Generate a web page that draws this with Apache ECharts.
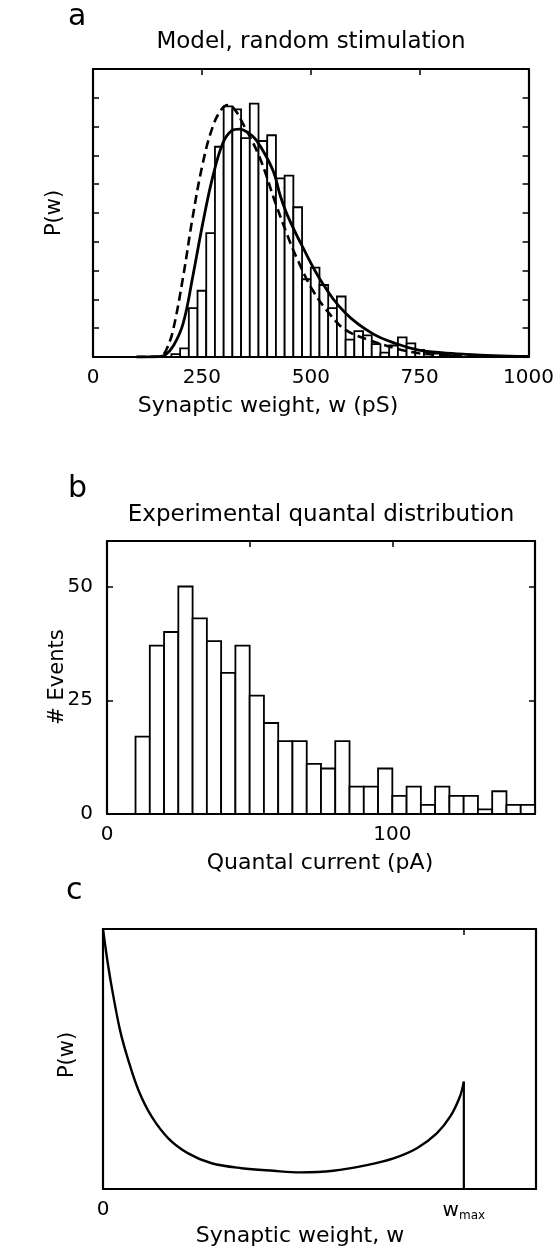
<!DOCTYPE html>
<html><head><meta charset="utf-8">
<script src="https://cdn.jsdelivr.net/npm/echarts@6/dist/echarts.min.js"></script>
<style>html,body{margin:0;padding:0;background:#fff}#c{width:557px;height:1248px}</style>
</head><body><div id="c"></div>
<script>
// ---- Panel a: model histogram (bin left edges, pS) and heights (arbitrary units)
const aBinLeft = [180,200,220,240,260,280,300,320,340,360,380,400,420,440,460,480,500,520,540,560,580,600,620,640,660,680,700,720,740,760,780,800,820];
const aBinHeight = [0.1,0.3,1.7,2.3,4.3,7.3,8.7,8.6,7.6,8.8,7.5,7.7,6.2,6.3,5.2,2.7,3.1,2.5,1.7,2.1,0.6,0.9,0.75,0.45,0.15,0.4,0.68,0.47,0.25,0.18,0.12,0.07,0.04];
const aBinWidth = 20;
// solid fit curve [w, P]
const aSolid = [[100,0],[150,0.01],[165,0.06],[185,0.4],[207,1.17],[229,2.79],[252,4.64],[275,6.26],[298,7.42],[318,7.85],[336,7.91],[355,7.8],[375,7.53],[413,6.49],[430,5.6],[447,4.9],[481,3.83],[527,2.56],[580,1.52],[641,0.82],[695,0.47],[748,0.24],[800,0.15],[860,0.09],[920,0.05],[1000,0.02]];
// dashed fit curve [w, P]
const aDashed = [[100,0],[150,0.01],[160,0.06],[170,0.3],[184,0.94],[207,2.79],[229,4.87],[252,6.72],[275,8.0],[295,8.6],[310,8.75],[325,8.6],[344,8.11],[382,6.95],[420,5.3],[447,4.2],[466,3.5],[504,2.33],[542,1.52],[580,0.94],[634,0.59],[695,0.30],[748,0.13],[800,0.07],[860,0.04],[950,0.01],[1000,0]];
const aXTicks = [0,250,500,750,1000];

// ---- Panel b: experimental histogram (bin left edges, pA) and counts
const bBinLeft = [10,15,20,25,30,35,40,45,50,55,60,65,70,75,80,85,90,95,100,105,110,115,120,125,130,135,140,145];
const bCounts = [17,37,40,50,43,38,31,37,26,20,16,16,11,10,16,6,6,10,4,6,2,6,4,4,1,5,2,2];
const bBinWidth = 5;
const bXLabels = [0,100];
const bYLabels = [0,25,50];

// ---- Panel c: theoretical weight distribution [w/wmax, P]
const cCurve = [[0,1.0],[0.012,0.88],[0.024,0.778],[0.047,0.612],[0.070,0.496],[0.098,0.381],[0.135,0.278],[0.181,0.195],[0.236,0.137],[0.301,0.099],[0.384,0.080],[0.472,0.070],[0.546,0.064],[0.638,0.070],[0.731,0.092],[0.805,0.118],[0.870,0.157],[0.925,0.214],[0.962,0.278],[0.989,0.355],[1.0,0.413]];
const cDrop = [[1.0,0.413],[1.0,0]];

const FONT = 'DejaVu Sans';
const chart = echarts.init(document.getElementById('c'), null, {renderer:'canvas'});

function histItem(width){
  return function(params, api){
    const x0 = api.value(0), h = api.value(1);
    const p0 = api.coord([x0, 0]);
    const p1 = api.coord([x0 + width, h]);
    return {type:'rect', shape:{x:p0[0], y:p1[1], width:p1[0]-p0[0], height:p0[1]-p1[1]},
      style:{fill:'#fff', stroke:'#000', lineWidth:1.8}};
  };
}
const axLine = {show:true, onZero:false, lineStyle:{color:'#000', width:2.2}};
const tick = {show:true, inside:true, length:6, lineStyle:{color:'#000', width:1.5}};
const lab = {color:'#000', fontSize:20, fontFamily:FONT};

function xPair(gi, min, max, interval, labelCfg){
  return [
    {gridIndex:gi, type:'value', min, max, interval, position:'bottom', axisLine:axLine, axisTick:tick, splitLine:{show:false}, axisLabel:labelCfg},
    {gridIndex:gi, type:'value', min, max, interval, position:'top', axisLine:axLine, axisTick:tick, splitLine:{show:false}, axisLabel:{show:false}}
  ];
}
function yPair(gi, min, max, interval, labelCfg, showTick){
  const t = showTick === false ? {show:false} : tick;
  return [
    {gridIndex:gi, type:'value', min, max, interval, position:'left', axisLine:axLine, axisTick:t, splitLine:{show:false}, axisLabel:labelCfg},
    {gridIndex:gi, type:'value', min, max, interval, position:'right', axisLine:axLine, axisTick:t, splitLine:{show:false}, axisLabel:{show:false}}
  ];
}

const option = {
  animation:false,
  backgroundColor:'#fff',
  grid:[
    {left:93, right:27, top:69, height:288},
    {left:107, right:22, top:541, height:273},
    {left:103, right:21, top:929, height:260}
  ],
  xAxis:[
    ...xPair(0, 0, 1000, 250, Object.assign({}, lab, {margin:11, formatter:v => aXTicks.includes(v) ? String(v) : ''})),
    ...xPair(1, 0, 150, 50, Object.assign({}, lab, {margin:11, showMaxLabel:false, formatter:v => bXLabels.includes(v) ? String(v) : ''})),
    ...xPair(2, 0, 1.2, 1, Object.assign({}, lab, {margin:11, showMaxLabel:false,
        formatter:v => v === 0 ? '0' : (v === 1 ? '{w|w}{m|max}' : ''),
        rich:{w:{fontSize:20, fontFamily:FONT, color:'#000'}, m:{fontSize:12, fontFamily:FONT, color:'#000', padding:[10,0,0,0]}}}))
  ],
  yAxis:[
    ...yPair(0, 0, 10, 1, {show:false}),
    ...yPair(1, 0, 60, 25, Object.assign({}, lab, {margin:14, showMaxLabel:false, formatter:v => bYLabels.includes(v) ? String(v) : ''})),
    ...yPair(2, 0, 1, 1, {show:false}, false)
  ],
  series:[
    {type:'custom', xAxisIndex:0, yAxisIndex:0, renderItem:histItem(aBinWidth), encode:{x:0,y:1},
      data:aBinLeft.map((x,i)=>[x, aBinHeight[i]]), z:2},
    {type:'line', xAxisIndex:0, yAxisIndex:0, data:aDashed, smooth:0.4, showSymbol:false,
      lineStyle:{color:'#000', width:2.6, type:[9,5]}, z:3},
    {type:'line', xAxisIndex:0, yAxisIndex:0, data:aSolid, smooth:0.4, showSymbol:false,
      lineStyle:{color:'#000', width:2.8}, z:3},
    {type:'custom', xAxisIndex:2, yAxisIndex:2, renderItem:histItem(bBinWidth), encode:{x:0,y:1},
      data:bBinLeft.map((x,i)=>[x, bCounts[i]]), z:2},
    {type:'line', xAxisIndex:4, yAxisIndex:4, data:cCurve, smooth:0.35, showSymbol:false,
      lineStyle:{color:'#000', width:2.4}, z:3},
    {type:'line', xAxisIndex:4, yAxisIndex:4, data:cDrop, showSymbol:false,
      lineStyle:{color:'#000', width:2.2}, z:3}
  ],
  graphic:[
    {type:'text', left:68, top:2, style:{text:'a', font:'30px "DejaVu Sans"', fill:'#000'}},
    {type:'text', x:311, y:42, style:{text:'Model, random stimulation', font:'23px "DejaVu Sans"', fill:'#000', align:'center', verticalAlign:'middle'}},
    {type:'text', x:55, y:213, rotation:Math.PI/2, style:{text:'P(w)', font:'21px "DejaVu Sans"', fill:'#000', align:'center', verticalAlign:'middle'}},
    {type:'text', x:268, y:406, style:{text:'Synaptic weight, w (pS)', font:'22px "DejaVu Sans"', fill:'#000', align:'center', verticalAlign:'middle'}},
    {type:'text', left:68, top:474, style:{text:'b', font:'30px "DejaVu Sans"', fill:'#000'}},
    {type:'text', x:321, y:515, style:{text:'Experimental quantal distribution', font:'23px "DejaVu Sans"', fill:'#000', align:'center', verticalAlign:'middle'}},
    {type:'text', x:58, y:677, rotation:Math.PI/2, style:{text:'# Events', font:'21px "DejaVu Sans"', fill:'#000', align:'center', verticalAlign:'middle'}},
    {type:'text', x:320, y:863, style:{text:'Quantal current (pA)', font:'22px "DejaVu Sans"', fill:'#000', align:'center', verticalAlign:'middle'}},
    {type:'text', left:66, top:876, style:{text:'c', font:'30px "DejaVu Sans"', fill:'#000'}},
    {type:'text', x:68, y:1055, rotation:Math.PI/2, style:{text:'P(w)', font:'21px "DejaVu Sans"', fill:'#000', align:'center', verticalAlign:'middle'}},
    {type:'text', x:300, y:1236, style:{text:'Synaptic weight, w', font:'22px "DejaVu Sans"', fill:'#000', align:'center', verticalAlign:'middle'}}
  ]
};
chart.setOption(option);
</script></body></html>
